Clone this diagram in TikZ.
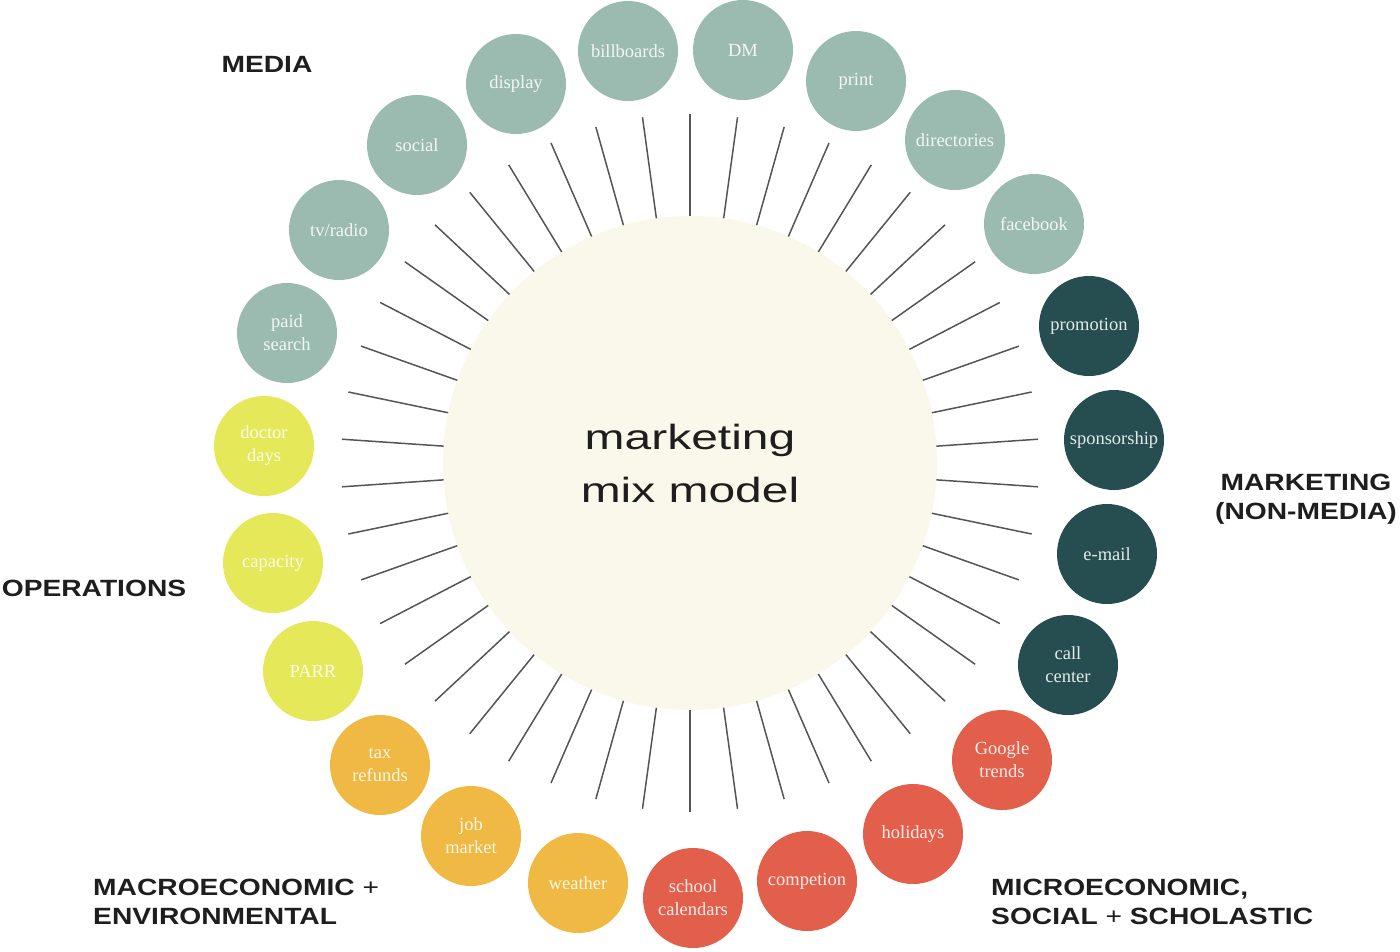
\documentclass[tikz,border=0pt]{standalone}
\usepackage{fontspec}
\setmainfont{Liberation Serif}
\newfontfamily\lblfont[FakeStretch=1.2]{Liberation Sans}
\newfontfamily\hubfont[FakeStretch=1.37]{Liberation Sans}
\definecolor{mediac}{HTML}{9BBBB1}
\definecolor{darkc}{HTML}{264E50}
\definecolor{redc}{HTML}{E2604B}
\definecolor{amberc}{HTML}{EFB943}
\definecolor{yellowc}{HTML}{E5E859}
\definecolor{creamc}{HTML}{FAF8EA}
\definecolor{rayc}{HTML}{555555}
\definecolor{labc}{HTML}{1E1E1E}
\tikzset{
  bub/.style={circle, minimum size=100pt, inner sep=0pt, align=center,
    font=\fontsize{18.5}{23}\selectfont, text=white, text opacity=0.88},
  media/.style={bub, fill=mediac},
  mkt/.style={bub, fill=darkc},
  micro/.style={bub, fill=redc},
  macro/.style={bub, fill=amberc},
  ops/.style={bub, fill=yellowc},
  grouplabel/.style={inner sep=0pt, text=labc, font=\lblfont\bfseries\fontsize{23.5}{29}\selectfont},
  ray/.style={draw=rayc, line width=1.5pt},
}
\begin{document}
\begin{tikzpicture}[x=1pt, y=-1pt]
\path[use as bounding box] (0,0) rectangle (1400,951);
% hub
\node[circle, fill=creamc, minimum size=494pt, inner sep=0pt, align=center,
  font=\hubfont\fontsize{35}{53}\selectfont, text=labc] (hub) at (690,463) {marketing\\mix model};
% rays
\foreach \i in {0,...,45}{
  \pgfmathsetmacro{\a}{90+\i*360/46}
  \draw[ray, shift={(hub.center)}] (\a:247) -- (\a:349);
}
% media
\node[media] (billboards) at (628,51) {billboards};
\node[media] (dm) at (743,50) {DM};
\node[media] (print) at (856,81) {print};
\node[media] (directories) at (955,140) {directories};
\node[media] (facebook) at (1034,224) {facebook};
\node[media] (display) at (516,84) {display};
\node[media] (social) at (417,145) {social};
\node[media] (tvradio) at (339,230) {tv/radio};
\node[media] (paid) at (287,333) {paid\\search};
% marketing non-media
\node[mkt] (promotion) at (1089,326) {promotion};
\node[mkt] (sponsorship) at (1114,440) {sponsorship};
\node[mkt] (email) at (1107,554) {e-mail};
\node[mkt] (callcenter) at (1068,665) {call\\center};
% micro
\node[micro] (google) at (1002,760) {Google\\trends};
\node[micro] (holidays) at (913,834) {holidays};
\node[micro] (competion) at (807,881) {competion};
\node[micro] (school) at (693,898) {school\\calendars};
% macro
\node[macro] (weather) at (578,883) {weather};
\node[macro] (job) at (471,836) {job\\market};
\node[macro] (tax) at (380,765) {tax\\refunds};
% operations
\node[ops] (parr) at (313,671) {PARR};
\node[ops] (capacity) at (273,563) {capacity};
\node[ops] (doctor) at (264,446) {doctor\\days};
% group labels
\node[grouplabel] (lmedia) at (267,64) {MEDIA};
\node[grouplabel, align=center] (lmkt) at (1306,499) {MARKETING\\(NON-MEDIA)};
\node[grouplabel] (lops) at (94,588) {OPERATIONS};
\node[grouplabel, align=left, anchor=west] (lmacro) at (93,902) {MACROECONOMIC {\mdseries +}\\ENVIRONMENTAL};
\node[grouplabel, align=left, anchor=west] (lmicro) at (991,902) {MICROECONOMIC,\\SOCIAL {\mdseries +} SCHOLASTIC};
\end{tikzpicture}
\end{document}
